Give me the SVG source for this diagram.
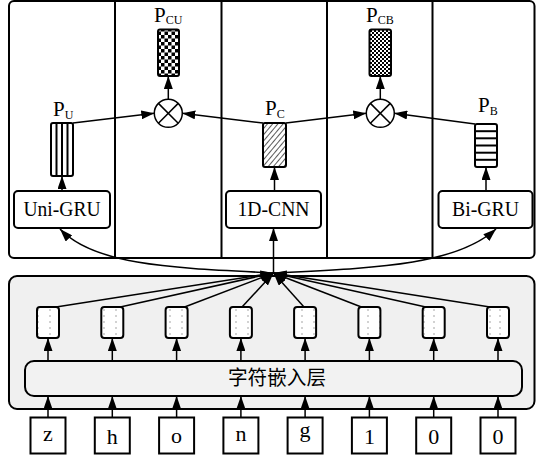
<svg xmlns="http://www.w3.org/2000/svg" width="536" height="460" viewBox="0 0 536 460">
  <style>
    .frame{fill:#fff;stroke:#000;stroke-width:2}
    .panel{fill:#f0f0f0;stroke:#000;stroke-width:2}
    .box{fill:#fff;stroke:#000;stroke-width:2}
    .emb{fill:#f2f2f2;stroke:#000;stroke-width:2}
    .vec{stroke:#000;stroke-width:2}
    .div{stroke:#000;stroke-width:2}
    .lbl{font-family:"Liberation Serif","Times New Roman",serif;font-size:22px;fill:#000;text-anchor:middle}
    .plbl{font-family:"Liberation Serif","Times New Roman",serif;font-size:21px;fill:#000}
    .sub{font-size:12px}
    .cn{font-family:"Noto Sans CJK SC",sans-serif;font-size:20px;fill:#000;text-anchor:middle}
    .edge{fill:none;stroke:#000;stroke-width:1.5;marker-end:url(#ah)}
    .op{fill:#fff;stroke:#000;stroke-width:1.5}
    .opx{stroke:#000;stroke-width:1.5}
  </style>
  <defs>
    <marker id="ah" viewBox="0 0 13 9" refX="13" refY="4.5" markerWidth="13" markerHeight="9" orient="auto" markerUnits="userSpaceOnUse">
      <path d="M0,0 L13,4.5 L0,9 z" fill="#000"/>
    </marker>
    <!-- coarse checkerboard -->
    <pattern id="chk" width="7" height="7" patternUnits="userSpaceOnUse">
      <rect width="7" height="7" fill="#fff"/>
      <rect width="3.5" height="3.5" fill="#000"/>
      <rect x="3.5" y="3.5" width="3.5" height="3.5" fill="#000"/>
    </pattern>
    <!-- fine checkerboard -->
    <pattern id="chkf" width="4" height="4" patternUnits="userSpaceOnUse">
      <rect width="4" height="4" fill="#fff"/>
      <rect width="2" height="2" fill="#000"/>
      <rect x="2" y="2" width="2" height="2" fill="#000"/>
    </pattern>
    <!-- diagonal hatching -->
    <pattern id="hatch" width="4" height="10" patternUnits="userSpaceOnUse" patternTransform="rotate(40)">
      <rect width="4" height="10" fill="#fff"/>
      <line x1="0" y1="0" x2="0" y2="10" stroke="#000" stroke-width="1.3"/>
    </pattern>
    <!-- dotted embedding vector -->
    <pattern id="dots" width="22" height="6" patternUnits="userSpaceOnUse" x="0" y="1">
      <rect width="22" height="6" fill="#fff"/>
      <circle cx="6" cy="3" r="0.8" fill="#999"/>
      <circle cx="16" cy="3" r="0.8" fill="#999"/>
    </pattern>
  </defs>

  <!-- upper frame with five columns -->
  <g id="upper-frame">
    <rect class="frame" x="9" y="1" width="525.5" height="257" rx="5"/>
    <line class="div" x1="115" y1="1" x2="115" y2="258"/>
    <line class="div" x1="221.5" y1="1" x2="221.5" y2="258"/>
    <line class="div" x1="327" y1="1" x2="327" y2="258"/>
    <line class="div" x1="432.5" y1="1" x2="432.5" y2="258"/>
  </g>

  <!-- lower panel -->
  <g id="lower-panel">
    <rect class="panel" x="9" y="276" width="525.5" height="133" rx="8"/>
  </g>

  <g id="uni-gru">
    <rect class="box" x="14" y="191" width="96" height="37" rx="4"/>
    <text class="lbl" x="62" y="216" textLength="77" lengthAdjust="spacingAndGlyphs">Uni-GRU</text>
  </g>
  <g id="cnn">
    <rect class="box" x="226" y="191" width="95" height="37" rx="4"/>
    <text class="lbl" x="273.5" y="216" textLength="72" lengthAdjust="spacingAndGlyphs">1D-CNN</text>
  </g>
  <g id="bi-gru">
    <rect class="box" x="438.5" y="191" width="94" height="37" rx="4"/>
    <text class="lbl" x="485.5" y="216" textLength="67" lengthAdjust="spacingAndGlyphs">Bi-GRU</text>
  </g>

  <g id="p-u">
    <rect class="vec" x="51" y="123" width="22" height="53" rx="2" fill="#fff"/>
    <line class="vec" x1="56.5" y1="123" x2="56.5" y2="176"/>
    <line class="vec" x1="62" y1="123" x2="62" y2="176"/>
    <line class="vec" x1="67.5" y1="123" x2="67.5" y2="176"/>
    <text class="plbl" x="53" y="116">P<tspan class="sub" dy="2.5">U</tspan></text>
  </g>
  <g id="p-c">
    <rect class="vec" x="263" y="123" width="23" height="44" rx="2" fill="url(#hatch)"/>
    <text class="plbl" x="265" y="115">P<tspan class="sub" dy="2.5">C</tspan></text>
  </g>
  <g id="p-b">
    <rect class="vec" x="475" y="124" width="22" height="43" rx="2" fill="#fff"/>
    <line class="vec" x1="475" y1="131.2" x2="497" y2="131.2"/>
    <line class="vec" x1="475" y1="138.3" x2="497" y2="138.3"/>
    <line class="vec" x1="475" y1="145.5" x2="497" y2="145.5"/>
    <line class="vec" x1="475" y1="152.7" x2="497" y2="152.7"/>
    <line class="vec" x1="475" y1="159.8" x2="497" y2="159.8"/>
    <text class="plbl" x="478" y="112">P<tspan class="sub" dy="2.5">B</tspan></text>
  </g>
  <g id="p-cu">
    <rect class="vec" x="158" y="29.5" width="21" height="46.5" rx="2" fill="url(#chk)"/>
    <text class="plbl" x="154" y="21.5">P<tspan class="sub" dy="2.5">CU</tspan></text>
  </g>
  <g id="p-cb">
    <rect class="vec" x="369.5" y="29.5" width="21.5" height="46.5" rx="2" fill="url(#chkf)"/>
    <text class="plbl" x="366" y="21.5">P<tspan class="sub" dy="2.5">CB</tspan></text>
  </g>

  <g id="mul-cu">
    <circle class="op" cx="168.3" cy="113.3" r="14"/>
    <line class="opx" x1="158.4" y1="103.4" x2="178.2" y2="123.2"/>
    <line class="opx" x1="158.4" y1="123.2" x2="178.2" y2="103.4"/>
  </g>
  <g id="mul-cb">
    <circle class="op" cx="380.3" cy="113.3" r="14"/>
    <line class="opx" x1="370.4" y1="103.4" x2="390.2" y2="123.2"/>
    <line class="opx" x1="370.4" y1="123.2" x2="390.2" y2="103.4"/>
  </g>

  <g id="embedding">
    <rect class="emb" x="25" y="361" width="497" height="35" rx="9"/>
    <text class="cn" x="277" y="385" textLength="98" lengthAdjust="spacingAndGlyphs">字符嵌入层</text>
  </g>

  <g id="char-vectors">
    <rect class="vec" x="37" y="307" width="22" height="31" rx="3" fill="url(#dots)"/>
    <rect class="vec" x="101.3" y="307" width="22" height="31" rx="3" fill="url(#dots)"/>
    <rect class="vec" x="165.6" y="307" width="22" height="31" rx="3" fill="url(#dots)"/>
    <rect class="vec" x="229.9" y="307" width="22" height="31" rx="3" fill="url(#dots)"/>
    <rect class="vec" x="294.1" y="307" width="22" height="31" rx="3" fill="url(#dots)"/>
    <rect class="vec" x="358.4" y="307" width="22" height="31" rx="3" fill="url(#dots)"/>
    <rect class="vec" x="422.7" y="307" width="22" height="31" rx="3" fill="url(#dots)"/>
    <rect class="vec" x="487" y="307" width="22" height="31" rx="3" fill="url(#dots)"/>
  </g>

  <g id="inputs">
    <rect class="box" x="30.5" y="417.5" width="35" height="36"/>
    <text class="lbl" x="48" y="441">z</text>
    <rect class="box" x="94.8" y="417.5" width="35" height="36"/>
    <text class="lbl" x="112.3" y="444">h</text>
    <rect class="box" x="159.1" y="417.5" width="35" height="36"/>
    <text class="lbl" x="176.6" y="443">o</text>
    <rect class="box" x="223.4" y="417.5" width="35" height="36"/>
    <text class="lbl" x="240.9" y="440.5">n</text>
    <rect class="box" x="287.6" y="417.5" width="35" height="36"/>
    <text class="lbl" x="305.1" y="437">g</text>
    <rect class="box" x="351.9" y="417.5" width="35" height="36"/>
    <text class="lbl" x="369.4" y="444">1</text>
    <rect class="box" x="416.2" y="417.5" width="35" height="36"/>
    <text class="lbl" x="433.7" y="444">0</text>
    <rect class="box" x="480.5" y="417.5" width="35" height="36"/>
    <text class="lbl" x="498" y="444">0</text>
  </g>

  <g id="connectors">
    <!-- inputs into the embedding layer -->
    <line class="edge" x1="48" y1="417.5" x2="48" y2="396"/>
    <line class="edge" x1="112.3" y1="417.5" x2="112.3" y2="396"/>
    <line class="edge" x1="176.6" y1="417.5" x2="176.6" y2="396"/>
    <line class="edge" x1="240.9" y1="417.5" x2="240.9" y2="396"/>
    <line class="edge" x1="305.1" y1="417.5" x2="305.1" y2="396"/>
    <line class="edge" x1="369.4" y1="417.5" x2="369.4" y2="396"/>
    <line class="edge" x1="433.7" y1="417.5" x2="433.7" y2="396"/>
    <line class="edge" x1="498" y1="417.5" x2="498" y2="396"/>
    <!-- embedding layer to character vectors -->
    <line class="edge" x1="48" y1="361" x2="48" y2="338"/>
    <line class="edge" x1="112.3" y1="361" x2="112.3" y2="338"/>
    <line class="edge" x1="176.6" y1="361" x2="176.6" y2="338"/>
    <line class="edge" x1="240.9" y1="361" x2="240.9" y2="338"/>
    <line class="edge" x1="305.1" y1="361" x2="305.1" y2="338"/>
    <line class="edge" x1="369.4" y1="361" x2="369.4" y2="338"/>
    <line class="edge" x1="433.7" y1="361" x2="433.7" y2="338"/>
    <line class="edge" x1="498" y1="361" x2="498" y2="338"/>
    <!-- character vectors gathered into one sequence -->
    <line class="edge" x1="56" y1="307" x2="273.5" y2="273"/>
    <line class="edge" x1="120.3" y1="307" x2="273.5" y2="273"/>
    <line class="edge" x1="184.6" y1="307" x2="273.5" y2="273"/>
    <line class="edge" x1="242" y1="307" x2="273.5" y2="273"/>
    <line class="edge" x1="304" y1="307" x2="273.5" y2="273"/>
    <line class="edge" x1="361.4" y1="307" x2="273.5" y2="273"/>
    <line class="edge" x1="425.7" y1="307" x2="273.5" y2="273"/>
    <line class="edge" x1="490" y1="307" x2="273.5" y2="273"/>
    <!-- sequence fed to the three encoders -->
    <line class="edge" x1="273.5" y1="273" x2="273.5" y2="228"/>
    <path class="edge" d="M273.5,273 C175,268 95,266 60,229"/>
    <path class="edge" d="M273.5,273 C372,268 455,266 496,229"/>
    <!-- encoders to their outputs -->
    <line class="edge" x1="62" y1="191" x2="62" y2="176"/>
    <line class="edge" x1="274.5" y1="191" x2="274.5" y2="167"/>
    <line class="edge" x1="486" y1="191" x2="486" y2="167"/>
    <!-- outputs into the products -->
    <line class="edge" x1="73" y1="123" x2="154.3" y2="113.3"/>
    <line class="edge" x1="263" y1="123" x2="182.3" y2="113.3"/>
    <line class="edge" x1="286" y1="123" x2="366.3" y2="113.3"/>
    <line class="edge" x1="475" y1="124" x2="394.3" y2="113.3"/>
    <!-- products to fused vectors -->
    <line class="edge" x1="168.3" y1="99.3" x2="168.3" y2="76"/>
    <line class="edge" x1="380.3" y1="99.3" x2="380.3" y2="76"/>
  </g>
</svg>
